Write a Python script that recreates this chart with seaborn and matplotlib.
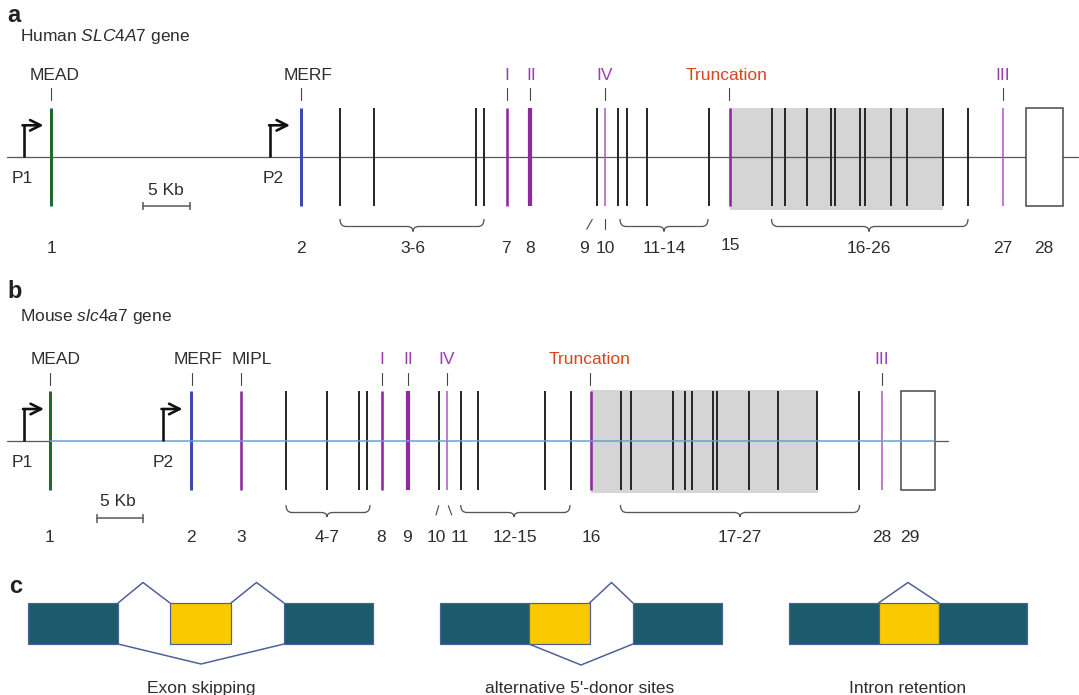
import matplotlib
matplotlib.use('Agg')
import matplotlib.pyplot as plt
from matplotlib.path import Path
from matplotlib.patches import PathPatch, Rectangle
import seaborn as sns

# all positions below are diagram coordinates (1 unit = 1 px of the 1079x695 canvas)

# ---- a: human SLC4A7 ----
HUMAN_GREEN = [50.5]
HUMAN_BLUE = [301]
HUMAN_BLACK = [340, 374, 476, 484, 597, 618, 627, 647, 709,
               771.5, 785, 807, 831, 835, 860, 865, 891, 907, 943, 968]
HUMAN_PURPLE = [507, 530, 730]
HUMAN_PURPLE_W = [2.6, 4.2, 2.6]
HUMAN_PURPLE_THIN = [605, 1003]
HUMAN_LAST_EXON = (1026, 1063)
HUMAN_SHADE = (730, 943)
HUMAN_PROMOTERS = [23.5, 270]
HUMAN_PROM_LABEL_X = [22, 273]
HUMAN_MARKS = ['MEAD', 'MERF', 'I', 'II', 'IV', 'Truncation', 'III']
HUMAN_MARK_TEXT_X = [55, 308, 507, 531, 605, 727, 1003]
HUMAN_MARK_TICK_X = [50.5, 301, 507, 530, 605, 728.5, 1003]
HUMAN_NUMBERS = ['1', '2', '3-6', '7', '8', '9', '10', '11-14', '15', '16-26', '27', '28']
HUMAN_NUMBER_X = [51, 301, 413, 506, 530, 584, 605, 664, 730, 869, 1003, 1044]
HUMAN_BRACES = [(340, 484, 413), (620, 708, 664), (771.5, 968, 869)]

# ---- b: mouse slc4a7 ----
MOUSE_GREEN = [50]
MOUSE_BLUE = [191]
MOUSE_BLACK = [286, 326.5, 359, 367, 439, 461, 478, 545, 571,
               620.5, 631, 673, 685, 692, 713, 717, 748.5, 778, 816.5, 859]
MOUSE_PURPLE = [241, 382, 408, 591]
MOUSE_PURPLE_W = [2.6, 2.6, 4.2, 2.6]
MOUSE_PURPLE_THIN = [447, 882]
MOUSE_LAST_EXON = (901, 935)
MOUSE_SHADE = (591, 818)
MOUSE_PROMOTERS = [24, 162.5]
MOUSE_PROM_LABEL_X = [22, 163]
MOUSE_MARKS = ['MEAD', 'MERF', 'MIPL', 'I', 'II', 'IV', 'Truncation', 'III']
MOUSE_MARK_TEXT_X = [56, 198, 252, 382, 408, 447, 590, 882]
MOUSE_MARK_TICK_X = [50, 191.5, 241, 382, 408, 447, 590, 882]
MOUSE_NUMBERS = ['1', '2', '3', '4-7', '8', '9', '10', '11', '12-15', '16', '17-27', '28', '29']
MOUSE_NUMBER_X = [50, 191, 241, 327, 381, 407, 436, 460, 515, 591, 740, 882, 910]
MOUSE_BRACES = [(286, 370, 327), (460.7, 570, 514), (620.5, 859.5, 740)]

# ---- c: splicing schemes ----
SCHEME_NAMES = ['Exon skipping', "alternative 5'-donor sites", 'Intron retention']
SCHEME_NAME_X = [201, 580, 908]
SCHEME_BOXES = [
    [(28, 118, 'exon'), (170, 231, 'alt'), (284, 373, 'exon')],
    [(440, 529, 'exon'), (529, 589.5, 'alt'), (633, 722, 'exon')],
    [(789, 878.5, 'exon'), (878.5, 939, 'alt'), (939, 1027, 'exon')],
]
SCHEME_JUNCTIONS = [
    [[(118, 603), (143, 582.5), (170, 603)],
     [(231, 603), (256.5, 582.5), (284, 603)],
     [(118, 644), (201, 664), (284, 644)]],
    [[(589.5, 603), (611.5, 582.5), (633, 603)],
     [(529, 644), (581, 665), (633, 644)]],
    [[(878.5, 603), (908, 582.5), (939, 603)]],
]

PX = 0.72  # px -> pt at 100 dpi
TXT = '#2e2e2e'
ROMAN = '#9b3fb3'
TRUNC = '#d9441f'
C_EXON = '#1b5b6b'
C_ALT = '#fbc900'
C_JUNC = '#4f5f98'

sns.set_theme(style='white')
plt.rcParams['font.family'] = ['Liberation Sans', 'DejaVu Sans']
plt.rcParams['mathtext.fontset'] = 'custom'
plt.rcParams['mathtext.rm'] = 'Liberation Sans'
plt.rcParams['mathtext.it'] = 'Liberation Sans:italic'

fig = plt.figure(figsize=(10.79, 6.95), dpi=100)
ax = fig.add_axes([0, 0, 1, 1])
ax.set_xlim(0, 1079)
ax.set_ylim(695, 0)
ax.axis('off')


def brace(x0, x1, xm, y0, y1, y2, r=6):
    verts = [(x0, y0), (x0, y1), (x0 + r, y1), (xm - r, y1), (xm, y1), (xm, y2),
             (xm, y1), (xm + r, y1), (x1 - r, y1), (x1, y1), (x1, y0)]
    codes = [Path.MOVETO, Path.CURVE3, Path.CURVE3, Path.LINETO, Path.CURVE3, Path.CURVE3,
             Path.CURVE3, Path.CURVE3, Path.LINETO, Path.CURVE3, Path.CURVE3]
    ax.add_patch(PathPatch(Path(verts, codes), fc='none', ec='#555555', lw=1.3 * PX))


def mark_color(name):
    if name == 'Truncation':
        return TRUNC
    if set(name) <= set('IV'):
        return ROMAN
    return TXT


def draw_gene(y_line, y_top, y_bot, green, blue, black, purple, purple_w, purple_thin,
              last_exon, shade, shade_y, promoters, prom_x, marks, mark_tx, mark_kx,
              mark_base, numbers, number_x, number_base, braces, brace_y):
    ax.add_patch(Rectangle((shade[0], shade_y[0]), shade[1] - shade[0], shade_y[1] - shade_y[0],
                           fc='#d5d5d5', ec='none', zorder=0.5))
    ax.vlines(black, y_top, y_bot, color='#2a2a2a', lw=2 * PX, zorder=3)
    ax.vlines(green, y_top, y_bot, color='#1e6b30', lw=3 * PX, zorder=3)
    ax.vlines(blue, y_top, y_bot, color='#3b4cb0', lw=3 * PX, zorder=3)
    for x, w in zip(purple, purple_w):
        ax.vlines(x, y_top, y_bot, color='#8e2a9e', lw=w * PX, zorder=3)
    ax.vlines(purple_thin, y_top, y_bot, color='#b060c2', lw=1.6 * PX, zorder=3)
    # promoters
    for x, lx, lab in zip(promoters, prom_x, ['P1', 'P2']):
        ax.plot([x, x], [y_line, y_line - 32], color='#111111', lw=2.6 * PX,
                solid_capstyle='butt', zorder=4)
        ax.annotate('', xy=(x + 20, y_line - 32), xytext=(x - 1.0, y_line - 32),
                    arrowprops=dict(arrowstyle='->', lw=2.6 * PX, color='#111111',
                                    mutation_scale=19, shrinkA=0, shrinkB=0), zorder=4)
        ax.text(lx, y_line + 26, lab, ha='center', va='baseline', fontsize=12.5, color=TXT)
    # upper labels
    for name, tx, kx in zip(marks, mark_tx, mark_kx):
        ax.text(tx, mark_base, name, ha='center', va='baseline', fontsize=12.5,
                color=mark_color(name))
        ax.plot([kx, kx], [mark_base + 8, mark_base + 20], color='#444444', lw=1.1 * PX)
    # lower labels
    for lab, x in zip(numbers, number_x):
        dy = -3.5 if lab == '15' else 0
        ax.text(x, number_base + dy, lab, ha='center', va='baseline', fontsize=12.5, color=TXT)
    for x0, x1, xm in braces:
        brace(x0, x1, xm, *brace_y)


# ---------- a ----------
ax.plot([7, 1078], [157.3, 157.3], color='#5a5a5a', lw=1.3 * PX, zorder=1)
draw_gene(157.3, 107.5, 206, HUMAN_GREEN, HUMAN_BLUE, HUMAN_BLACK, HUMAN_PURPLE,
          HUMAN_PURPLE_W, HUMAN_PURPLE_THIN, HUMAN_LAST_EXON, HUMAN_SHADE, (108, 210),
          HUMAN_PROMOTERS, HUMAN_PROM_LABEL_X, HUMAN_MARKS, HUMAN_MARK_TEXT_X,
          HUMAN_MARK_TICK_X, 80, HUMAN_NUMBERS, HUMAN_NUMBER_X, 253, HUMAN_BRACES,
          (219, 226.5, 231.5))
ax.add_patch(Rectangle((HUMAN_LAST_EXON[0], 107.5), HUMAN_LAST_EXON[1] - HUMAN_LAST_EXON[0], 98.5,
                       fc='white', ec='#444444', lw=1.5 * PX, zorder=3))
# 9 / 10 pointers
ax.plot([592.3, 586.7], [219.3, 229.3], color='#444444', lw=1.1 * PX)
ax.plot([605, 605], [219.3, 229.3], color='#444444', lw=1.1 * PX)
# scale bar
ax.plot([143, 190], [205.7, 205.7], color='#555555', lw=1.5 * PX)
ax.vlines([143, 190], 201.5, 210, color='#555555', lw=1.5 * PX)
ax.text(166, 195, '5 Kb', ha='center', va='baseline', fontsize=12.5, color=TXT)
ax.text(7, 22, 'a', ha='left', va='baseline', fontsize=17, fontweight='bold', color='#222222')
ax.text(20, 41.5, r'Human $\mathit{SLC4A7}$ gene', ha='left', va='baseline', fontsize=12.5, color=TXT)

# ---------- b ----------
ax.plot([7, 50], [441, 441], color='#5a5a5a', lw=1.3 * PX, zorder=1)
ax.plot([50, 935], [441, 441], color='#6d9ad6', lw=1.5 * PX, zorder=3.5)
ax.plot([935, 948], [441, 441], color='#5a5a5a', lw=1.3 * PX, zorder=1)
draw_gene(441, 391, 490, MOUSE_GREEN, MOUSE_BLUE, MOUSE_BLACK, MOUSE_PURPLE,
          MOUSE_PURPLE_W, MOUSE_PURPLE_THIN, MOUSE_LAST_EXON, MOUSE_SHADE, (390, 493),
          MOUSE_PROMOTERS, MOUSE_PROM_LABEL_X, MOUSE_MARKS, MOUSE_MARK_TEXT_X,
          MOUSE_MARK_TICK_X, 364.5, MOUSE_NUMBERS, MOUSE_NUMBER_X, 541.5, MOUSE_BRACES,
          (505, 512.5, 517))
ax.add_patch(Rectangle((MOUSE_LAST_EXON[0], 391), MOUSE_LAST_EXON[1] - MOUSE_LAST_EXON[0], 99,
                       fc='none', ec='#444444', lw=1.5 * PX, zorder=3))
# 10 / 11 pointers
ax.plot([438.7, 436], [505.7, 515], color='#444444', lw=1.1 * PX)
ax.plot([448.3, 451.7], [505.7, 515], color='#444444', lw=1.1 * PX)
ax.plot([96.7, 143.3], [518.3, 518.3], color='#555555', lw=1.5 * PX)
ax.vlines([96.7, 143.3], 514, 522.5, color='#555555', lw=1.5 * PX)
ax.text(118, 506.5, '5 Kb', ha='center', va='baseline', fontsize=12.5, color=TXT)
ax.text(7, 298, 'b', ha='left', va='baseline', fontsize=17, fontweight='bold', color='#222222')
ax.text(20, 321.5, r'Mouse $\mathit{slc4a7}$ gene', ha='left', va='baseline', fontsize=12.5, color=TXT)

# ---------- c ----------
ax.text(9, 593, 'c', ha='left', va='baseline', fontsize=17, fontweight='bold', color='#222222')
for name, nx, boxes, juncs in zip(SCHEME_NAMES, SCHEME_NAME_X, SCHEME_BOXES, SCHEME_JUNCTIONS):
    for x0, x1, kind in boxes:
        ax.add_patch(Rectangle((x0, 603), x1 - x0, 41,
                               fc=C_EXON if kind == 'exon' else C_ALT,
                               ec=C_JUNC, lw=1.2 * PX, zorder=2))
    for pts in juncs:
        xs, ys = zip(*pts)
        ax.plot(xs, ys, color=C_JUNC, lw=1.5 * PX, zorder=2.5)
    ax.text(nx, 693, name, ha='center', va='baseline', fontsize=12.5, color=TXT)

fig.savefig('out.png', dpi=100)
